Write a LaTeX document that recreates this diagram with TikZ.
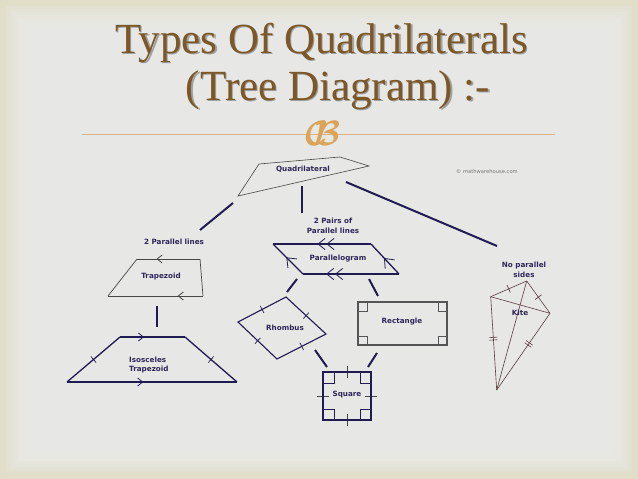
\documentclass[tikz,border=0pt]{standalone}
\usepackage{fontspec}
\setmainfont{Liberation Serif}
\setsansfont{DejaVu Sans}
\usetikzlibrary{decorations.markings}

\definecolor{titlebrown}{RGB}{124,88,40}
\definecolor{navy}{RGB}{32,27,80}
\definecolor{navytext}{RGB}{45,38,88}
\definecolor{edgegrey}{RGB}{70,70,70}
\definecolor{rectgrey}{RGB}{85,85,85}
\definecolor{kitebrown}{RGB}{90,62,62}
\definecolor{gold}{RGB}{218,165,88}
\definecolor{rulegold}{RGB}{214,180,135}
\definecolor{slidegrey}{RGB}{234,234,233}
\definecolor{slidebeige}{RGB}{224,221,200}

\begin{document}
\begin{tikzpicture}[x=1pt, y=-1pt,
  title/.style={font=\fontsize{43}{47}\selectfont, inner sep=0pt, anchor=base},
  lbl/.style={font=\sffamily\bfseries\fontsize{7.2}{9.7}\selectfont, text=navytext, align=center, inner sep=0pt},
  branch/.style={draw=navy, line width=2pt},
  thinedge/.style={draw=edgegrey, line width=0.7pt},
  boldedge/.style={draw=navy, line width=1.3pt},
  chev/.style 2 args={postaction={decorate, decoration={markings, mark=at position #1 with {\draw[line width=0.8pt] (-#2,0.8*#2) -- (0,0) -- (-#2,-0.8*#2);}}}},
  dchev/.style 2 args={postaction={decorate, decoration={markings, mark=at position #1 with {\draw[line width=0.8pt] (-#2,0.8*#2) -- (0,0) -- (-#2,-0.8*#2); \draw[line width=0.8pt] (-#2-9,0.8*#2) -- (-9,0) -- (-#2-9,-0.8*#2);}}}},
  tickmark/.style={postaction={decorate, decoration={markings, mark=at position #1 with {\draw[line width=0.7pt] (0,-4) -- (0,4);}}}},
  dtickmark/.style={postaction={decorate, decoration={markings, mark=at position #1 with {\draw[line width=0.6pt] (-1.3,-4) -- (-1.3,4); \draw[line width=0.6pt] (1.3,-4) -- (1.3,4);}}}}
]

% slide background
\fill[slidebeige] (0,0) rectangle (638,479);
\foreach \i in {0,...,9}
  \fill[slidegrey, opacity=0.25] (6+3*\i,6+3*\i) rectangle (632-3*\i,473-3*\i);
\useasboundingbox (0,0) rectangle (638,479);

% title
\node[title, text=black, opacity=0.3] (title1s) at (323,54.5) {Types Of Quadrilaterals};
\node[title, text=titlebrown] (title1) at (321.5,53) {Types Of Quadrilaterals};
\node[title, text=black, opacity=0.3] (title2s) at (339.5,101.5) {(Tree Diagram) :-};
\node[title, text=titlebrown] (title2) at (338,100) {(Tree Diagram) :-};
\draw[rulegold, line width=0.8pt] (82,134) -- (555,134);
\node[text=gold, inner sep=0pt, font=\fontsize{20}{22}\selectfont\boldmath] (orn) at (323,133) {\scalebox{1.7}{$\mathcal{C}\mkern-7mu\mathcal{B}$}};

% quadrilateral
\draw[thinedge, line width=0.6pt] (238,196) -- (259,164) -- (340,157) -- (369,166) -- cycle;
\node[lbl] (quad) at (303,169) {Quadrilateral};
\node[font=\sffamily\fontsize{5.2}{6}\selectfont, text=black!55, inner sep=0pt] (copy) at (487,172) {\textcopyright\ mathwarehouse.com};

% branches from the top
\coordinate (qL) at (233,203); \coordinate (twoL) at (200,230);
\coordinate (qM) at (302,186); \coordinate (pairsT) at (302,213);
\coordinate (qR) at (346,182); \coordinate (noparT) at (497,246);
\draw[branch] (qL) -- (twoL);
\draw[branch] (qM) -- (pairsT);
\draw[branch] (qR) -- (noparT);

% trapezoids
\node[lbl] (twopar) at (174,242) {2 Parallel lines};
\draw[thinedge] (137,259) -- (108,296);
\draw[thinedge] (203,296) -- (200,259);
\draw[thinedge, chev={0.68}{5}] (200,259) -- (137,259);
\draw[thinedge, chev={0.26}{5}] (203,296) -- (108,296);
\node[lbl] (trap) at (161,277) {Trapezoid};

\coordinate (trapB) at (157,306); \coordinate (isoT) at (157,327);
\draw[branch] (trapB) -- (isoT);

\draw[boldedge, chev={0.36}{5}] (120,337) -- (185,337);
\draw[boldedge, chev={0.445}{5}] (67,382) -- (237,382);
\draw[boldedge, tickmark=0.5] (67,382) -- (120,337);
\draw[boldedge, tickmark=0.5] (185,337) -- (237,382);
\node[lbl, align=left, anchor=west] (iso) at (129,365) {Isosceles\\Trapezoid};

% parallelograms
\node[lbl] (pairs) at (333,226) {2 Pairs of\\Parallel lines};
\draw[boldedge, dchev={0.54}{7}] (371,244) -- (273,244);
\draw[boldedge, dchev={0.753}{7}] (399,274) -- (303,274);
\draw[boldedge, chev={0.54}{8}] (303,274) -- (273,244);
\draw[boldedge, chev={0.52}{8}] (399,274) -- (371,244);
\node[lbl] (para) at (338,259) {Parallelogram};

\coordinate (paraL) at (297,279); \coordinate (rhoT) at (287,292);
\coordinate (paraR) at (369,279); \coordinate (recT) at (378,296);
\draw[branch] (paraL) -- (rhoT);
\draw[branch] (paraR) -- (recT);

% rhombus
\draw[boldedge, line width=1.1pt, tickmark=0.125, tickmark=0.375, tickmark=0.625, tickmark=0.875]
  (238,322) -- (286,297) -- (326,334) -- (277,359) -- cycle;
\node[lbl] (rho) at (285,328) {Rhombus};

% rectangle
\draw[draw=rectgrey, line width=1.3pt] (358,302) rectangle (447,345);
\draw[draw=rectgrey, line width=0.7pt] (358,302) rectangle ++(9,9);
\draw[draw=rectgrey, line width=0.7pt] (358,345) rectangle ++(9,-9);
\draw[draw=rectgrey, line width=0.7pt] (447,302) rectangle ++(-9,9);
\draw[draw=rectgrey, line width=0.7pt] (447,345) rectangle ++(-9,-9);
\node[lbl] (rec) at (402,322) {Rectangle};

\coordinate (rhoB) at (315,350); \coordinate (sqL) at (327,367);
\coordinate (recB) at (377,353); \coordinate (sqR) at (368,367);
\draw[branch] (rhoB) -- (sqL);
\draw[branch] (recB) -- (sqR);

% square
\draw[draw=edgegrey, line width=0.5pt] (347,366) -- (347,378);
\draw[draw=edgegrey, line width=0.5pt] (347,414) -- (347,426);
\draw[draw=edgegrey, line width=0.5pt] (317,396) -- (329,396);
\draw[draw=edgegrey, line width=0.5pt] (365,396) -- (377,396);
\draw[boldedge] (323,372) rectangle (371,420);
\draw[draw=navy, line width=0.7pt] (323,372) rectangle ++(11,11);
\draw[draw=navy, line width=0.7pt] (371,372) rectangle ++(-11,11);
\draw[draw=navy, line width=0.7pt] (323,420) rectangle ++(11,-11);
\draw[draw=navy, line width=0.7pt] (371,420) rectangle ++(-11,-11);
\node[lbl] (sq) at (347,395) {Square};

% kite
\node[lbl] (nopar) at (524,270) {No parallel\\sides};
\coordinate (kT) at (526.7,281); \coordinate (kL) at (490.7,296.7);
\coordinate (kR) at (550,313.3); \coordinate (kB) at (496.7,390);
\draw[draw=kitebrown, line width=0.6pt, tickmark=0.5] (kT) -- (kL);
\draw[draw=kitebrown, line width=0.6pt, tickmark=0.5] (kT) -- (kR);
\draw[draw=kitebrown, line width=0.6pt, dtickmark=0.45] (kL) -- (kB);
\draw[draw=kitebrown, line width=0.6pt, dtickmark=0.4] (kR) -- (kB);
\draw[draw=kitebrown, line width=0.6pt] (kT) -- (kB);
\draw[draw=kitebrown, line width=0.6pt] (kL) -- (kR);
\node[lbl] (kite) at (520,313) {Kite};

\end{tikzpicture}
\end{document}
